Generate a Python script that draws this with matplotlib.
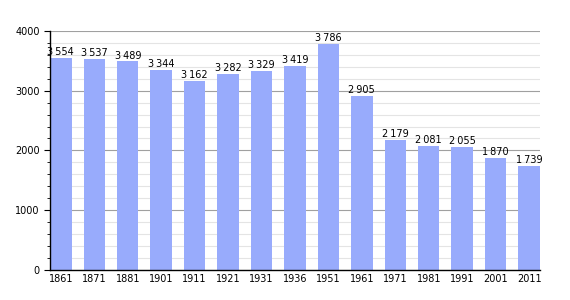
import matplotlib.pyplot as plt
import numpy as np

# recensements
years = ["1861", "1871", "1881", "1901", "1911", "1921", "1931", "1936",
         "1951", "1961", "1971", "1981", "1991", "2001", "2011"]
population = [3554, 3537, 3489, 3344, 3162, 3282, 3329, 3419,
              3786, 2905, 2179, 2081, 2055, 1870, 1739]

fig = plt.figure(figsize=(5.7, 3.0), dpi=100)
ax = fig.add_axes([0.088, 0.1, 0.859, 0.797])

x = np.arange(len(years))
ax.bar(x, population, width=0.64, color="#98abfc", zorder=2)

for xi, v in zip(x, population):
    label = f"{v:,}".replace(",", "\u2009")
    ax.text(xi, v + 15, label, ha="center", va="bottom", fontsize=7, zorder=3)

ax.set_xlim(-0.32, len(years) - 1 + 0.32)
ax.set_ylim(0, 4000)
ax.set_xticks(x)
ax.set_xticklabels(years, fontsize=7)
ax.set_yticks(range(0, 4001, 1000))
ax.set_yticks(range(0, 4001, 200), minor=True)
ax.tick_params(axis="y", labelsize=7, length=4, direction="out")
ax.tick_params(axis="y", which="minor", length=2)
ax.tick_params(axis="x", length=0, pad=3)

ax.grid(axis="y", which="major", color="#a0a0a0", linewidth=0.8, zorder=0)
ax.grid(axis="y", which="minor", color="#e4e4e4", linewidth=0.8, zorder=0)
ax.set_axisbelow(True)

for s in ["top", "right"]:
    ax.spines[s].set_visible(False)
ax.spines["left"].set_linewidth(1)
ax.spines["bottom"].set_linewidth(1)

fig.savefig("out.png", dpi=100)
